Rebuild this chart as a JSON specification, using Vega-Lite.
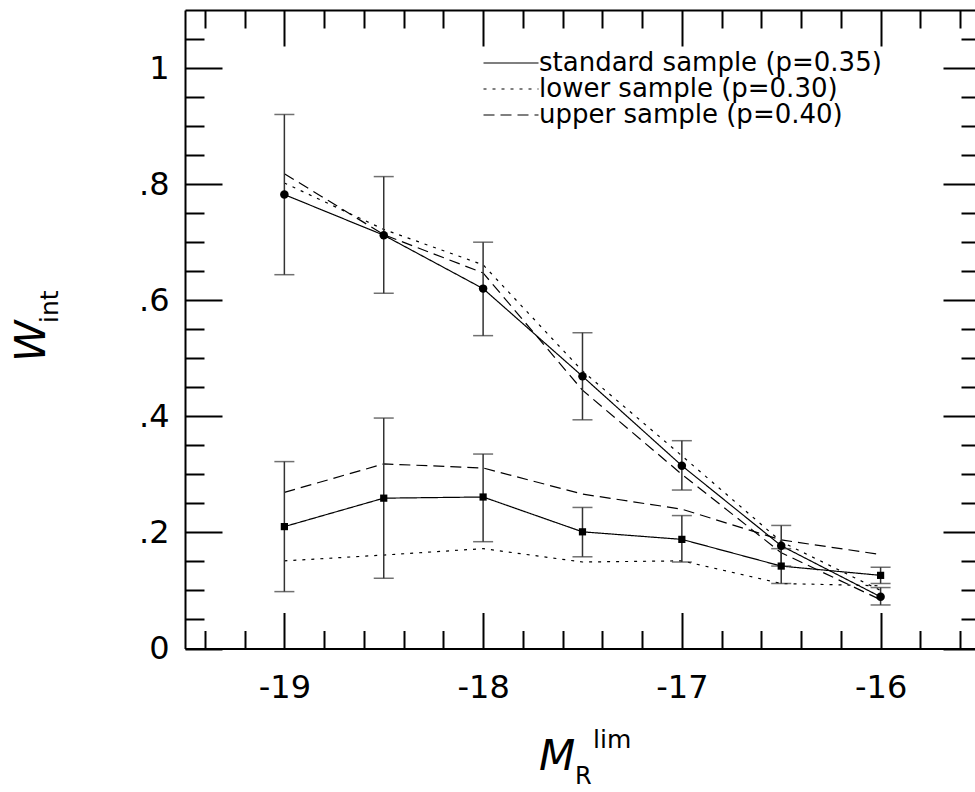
{
  "$schema": "https://vega.github.io/schema/vega-lite/v6.json",
  "width": 790,
  "height": 638.5,
  "autosize": "none",
  "padding": {"left": 185, "top": 10, "right": 0, "bottom": 143.5},
  "background": "white",
  "config": {
    "view": {"stroke": null},
    "font": "DejaVu Sans",
    "axis": {
      "domainColor": "black", "domainWidth": 2, "tickColor": "black", "tickWidth": 2,
      "grid": false, "title": null, "labelColor": "black", "labelFont": "DejaVu Sans", "labelFontSize": 32
    }
  },
  "datasets": {
    "pts": [
      {"x": -19, "group": "upper", "sample": "standard sample (p=0.35)", "w": 0.782, "lo": 0.644, "hi": 0.920},
      {"x": -18.5, "group": "upper", "sample": "standard sample (p=0.35)", "w": 0.712, "lo": 0.612, "hi": 0.813},
      {"x": -18, "group": "upper", "sample": "standard sample (p=0.35)", "w": 0.620, "lo": 0.539, "hi": 0.700},
      {"x": -17.5, "group": "upper", "sample": "standard sample (p=0.35)", "w": 0.469, "lo": 0.394, "hi": 0.544},
      {"x": -17, "group": "upper", "sample": "standard sample (p=0.35)", "w": 0.315, "lo": 0.273, "hi": 0.358},
      {"x": -16.5, "group": "upper", "sample": "standard sample (p=0.35)", "w": 0.177, "lo": 0.142, "hi": 0.212},
      {"x": -16, "group": "upper", "sample": "standard sample (p=0.35)", "w": 0.089, "lo": 0.075, "hi": 0.105},
      {"x": -19, "group": "upper", "sample": "lower sample (p=0.30)", "w": 0.802},
      {"x": -18.5, "group": "upper", "sample": "lower sample (p=0.30)", "w": 0.722},
      {"x": -18, "group": "upper", "sample": "lower sample (p=0.30)", "w": 0.661},
      {"x": -17.5, "group": "upper", "sample": "lower sample (p=0.30)", "w": 0.478},
      {"x": -17, "group": "upper", "sample": "lower sample (p=0.30)", "w": 0.332},
      {"x": -16.5, "group": "upper", "sample": "lower sample (p=0.30)", "w": 0.184},
      {"x": -16, "group": "upper", "sample": "lower sample (p=0.30)", "w": 0.100},
      {"x": -19, "group": "upper", "sample": "upper sample (p=0.40)", "w": 0.818},
      {"x": -18.5, "group": "upper", "sample": "upper sample (p=0.40)", "w": 0.713},
      {"x": -18, "group": "upper", "sample": "upper sample (p=0.40)", "w": 0.647},
      {"x": -17.5, "group": "upper", "sample": "upper sample (p=0.40)", "w": 0.445},
      {"x": -17, "group": "upper", "sample": "upper sample (p=0.40)", "w": 0.300},
      {"x": -16.5, "group": "upper", "sample": "upper sample (p=0.40)", "w": 0.165},
      {"x": -16, "group": "upper", "sample": "upper sample (p=0.40)", "w": 0.084},
      {"x": -19, "group": "lower", "sample": "standard sample (p=0.35)", "w": 0.210, "lo": 0.098, "hi": 0.322},
      {"x": -18.5, "group": "lower", "sample": "standard sample (p=0.35)", "w": 0.259, "lo": 0.121, "hi": 0.397},
      {"x": -18, "group": "lower", "sample": "standard sample (p=0.35)", "w": 0.261, "lo": 0.184, "hi": 0.335},
      {"x": -17.5, "group": "lower", "sample": "standard sample (p=0.35)", "w": 0.201, "lo": 0.158, "hi": 0.243},
      {"x": -17, "group": "lower", "sample": "standard sample (p=0.35)", "w": 0.188, "lo": 0.149, "hi": 0.229},
      {"x": -16.5, "group": "lower", "sample": "standard sample (p=0.35)", "w": 0.142, "lo": 0.112, "hi": 0.172},
      {"x": -16, "group": "lower", "sample": "standard sample (p=0.35)", "w": 0.126, "lo": 0.112, "hi": 0.140},
      {"x": -19, "group": "lower", "sample": "lower sample (p=0.30)", "w": 0.151},
      {"x": -18.5, "group": "lower", "sample": "lower sample (p=0.30)", "w": 0.161},
      {"x": -18, "group": "lower", "sample": "lower sample (p=0.30)", "w": 0.172},
      {"x": -17.5, "group": "lower", "sample": "lower sample (p=0.30)", "w": 0.149},
      {"x": -17, "group": "lower", "sample": "lower sample (p=0.30)", "w": 0.151},
      {"x": -16.5, "group": "lower", "sample": "lower sample (p=0.30)", "w": 0.112},
      {"x": -16, "group": "lower", "sample": "lower sample (p=0.30)", "w": 0.108},
      {"x": -19, "group": "lower", "sample": "upper sample (p=0.40)", "w": 0.269},
      {"x": -18.5, "group": "lower", "sample": "upper sample (p=0.40)", "w": 0.318},
      {"x": -18, "group": "lower", "sample": "upper sample (p=0.40)", "w": 0.311},
      {"x": -17.5, "group": "lower", "sample": "upper sample (p=0.40)", "w": 0.266},
      {"x": -17, "group": "lower", "sample": "upper sample (p=0.40)", "w": 0.240},
      {"x": -16.5, "group": "lower", "sample": "upper sample (p=0.40)", "w": 0.187},
      {"x": -16, "group": "lower", "sample": "upper sample (p=0.40)", "w": 0.162}
    ]
  },
  "data": {"name": "pts"},
  "layer": [
    {
      "mark": {"type": "line", "color": "black", "strokeWidth": 1.2},
      "encoding": {
        "x": {
          "field": "x", "type": "quantitative",
          "scale": {"domain": [-19.5, -15.525], "nice": false, "zero": false},
          "axis": {
            "orient": "bottom",
            "values": [-19.4,-19.2,-19,-18.8,-18.6,-18.4,-18.2,-18,-17.8,-17.6,-17.4,-17.2,-17,-16.8,-16.6,-16.4,-16.2,-16,-15.8,-15.6],
            "tickSize": {"condition": {"test": "abs(datum.value - round(datum.value)) < 0.001", "value": -36}, "value": -18},
            "labelExpr": "abs(datum.value - round(datum.value)) < 0.001 ? '' + round(datum.value) : ''",
            "labelBaseline": "alphabetic",
            "labelPadding": 85,
            "labelFlush": false,
            "labelOverlap": false
          }
        },
        "y": {
          "field": "w", "type": "quantitative",
          "scale": {"domain": [0, 1.1], "nice": false, "zero": false},
          "axis": {
            "orient": "left",
            "values": [0,0.05,0.1,0.15,0.2,0.25,0.3,0.35,0.4,0.45,0.5,0.55,0.6,0.65,0.7,0.75,0.8,0.85,0.9,0.95,1,1.05],
            "tickSize": {"condition": {"test": "abs(datum.value*5 - round(datum.value*5)) < 0.001", "value": -37}, "value": -19},
            "labelExpr": "abs(datum.value*5 - round(datum.value*5)) < 0.001 ? replace(format(datum.value, '~g'), '0.', '.') : ''",
            "labelBaseline": "middle",
            "labelPadding": 53,
            "labelFlush": false,
            "labelOverlap": false
          }
        },
        "strokeDash": {
          "field": "sample", "type": "nominal",
          "scale": {"domain": ["standard sample (p=0.35)", "lower sample (p=0.30)", "upper sample (p=0.40)"], "range": [[1, 0], [3, 6], [11, 6]]},
          "legend": {
            "orient": "none", "legendX": 313, "legendY": 40, "title": null,
            "labelFont": "DejaVu Sans", "labelFontSize": 26, "labelColor": "black", "labelLimit": 0,
            "symbolType": "M-5,0H5", "symbolSize": 121, "symbolStrokeWidth": 1.2, "symbolStrokeColor": "black",
            "labelOffset": 15, "padding": 0, "rowPadding": -3.5
          }
        },
        "detail": {"field": "group"}
      }
    },
    {
      "transform": [{"filter": "isValid(datum.lo)"}],
      "mark": {"type": "rule", "color": "#333333", "strokeWidth": 1.5},
      "encoding": {
        "x": {
          "field": "x", "type": "quantitative",
          "axis": {
            "orient": "top",
            "values": [-19.4,-19.2,-19,-18.8,-18.6,-18.4,-18.2,-18,-17.8,-17.6,-17.4,-17.2,-17,-16.8,-16.6,-16.4,-16.2,-16,-15.8,-15.6],
            "tickSize": {"condition": {"test": "abs(datum.value - round(datum.value)) < 0.001", "value": -36}, "value": -18},
            "labels": false
          }
        },
        "y": {
          "field": "lo", "type": "quantitative",
          "axis": {
            "orient": "right", "offset": 5,
            "values": [0,0.05,0.1,0.15,0.2,0.25,0.3,0.35,0.4,0.45,0.5,0.55,0.6,0.65,0.7,0.75,0.8,0.85,0.9,0.95,1,1.05],
            "tickSize": {"condition": {"test": "abs(datum.value*5 - round(datum.value*5)) < 0.001", "value": -37}, "value": -19},
            "labels": false
          }
        },
        "y2": {"field": "hi"}
      }
    },
    {
      "transform": [{"filter": "isValid(datum.lo)"}],
      "mark": {"type": "tick", "orient": "horizontal", "color": "#333333", "size": 20, "thickness": 1.5},
      "encoding": {
        "x": {"field": "x", "type": "quantitative", "axis": null},
        "y": {"field": "lo", "type": "quantitative", "axis": null}
      }
    },
    {
      "transform": [{"filter": "isValid(datum.lo)"}],
      "mark": {"type": "tick", "orient": "horizontal", "color": "#333333", "size": 20, "thickness": 1.5},
      "encoding": {
        "x": {"field": "x", "type": "quantitative", "axis": null},
        "y": {"field": "hi", "type": "quantitative", "axis": null}
      }
    },
    {
      "transform": [{"filter": "isValid(datum.lo)"}],
      "mark": {"type": "point", "filled": true, "color": "black", "opacity": 1},
      "encoding": {
        "x": {"field": "x", "type": "quantitative", "axis": null},
        "y": {"field": "w", "type": "quantitative", "axis": null},
        "shape": {"field": "group", "type": "nominal", "scale": {"domain": ["upper", "lower"], "range": ["circle", "square"]}, "legend": null},
        "size": {"field": "group", "type": "nominal", "scale": {"domain": ["upper", "lower"], "range": [72, 52]}, "legend": null}
      }
    },
    {
      "data": {"values": [{}]},
      "mark": {"type": "text", "text": "W", "font": "DejaVu Sans", "fontStyle": "italic", "fontSize": 42, "angle": 270, "align": "left", "baseline": "alphabetic", "color": "black"},
      "encoding": {
        "x": {"datum": -20.204, "type": "quantitative", "axis": null},
        "y": {"datum": 0.4936, "type": "quantitative", "axis": null}
      }
    },
    {
      "data": {"values": [{}]},
      "mark": {"type": "text", "text": "int", "font": "DejaVu Sans", "fontSize": 25, "angle": 270, "align": "left", "baseline": "alphabetic", "color": "black"},
      "encoding": {
        "x": {"datum": -20.139, "type": "quantitative", "axis": null},
        "y": {"datum": 0.5608, "type": "quantitative", "axis": null}
      }
    },
    {
      "data": {"values": [{}]},
      "mark": {"type": "text", "text": "M", "font": "DejaVu Sans", "fontStyle": "italic", "fontSize": 42, "align": "left", "baseline": "alphabetic", "color": "black"},
      "encoding": {
        "x": {"datum": -17.7188, "type": "quantitative", "axis": null},
        "y": {"datum": -0.2093, "type": "quantitative", "axis": null}
      }
    },
    {
      "data": {"values": [{}]},
      "mark": {"type": "text", "text": "R", "font": "DejaVu Sans", "fontSize": 24, "align": "left", "baseline": "alphabetic", "color": "black"},
      "encoding": {
        "x": {"datum": -17.5376, "type": "quantitative", "axis": null},
        "y": {"datum": -0.2334, "type": "quantitative", "axis": null}
      }
    },
    {
      "data": {"values": [{}]},
      "mark": {"type": "text", "text": "lim", "font": "DejaVu Sans", "fontSize": 25, "align": "left", "baseline": "alphabetic", "color": "black"},
      "encoding": {
        "x": {"datum": -17.447, "type": "quantitative", "axis": null},
        "y": {"datum": -0.1714, "type": "quantitative", "axis": null}
      }
    }
  ],
  "resolve": {"axis": {"x": "independent", "y": "independent"}}
}
